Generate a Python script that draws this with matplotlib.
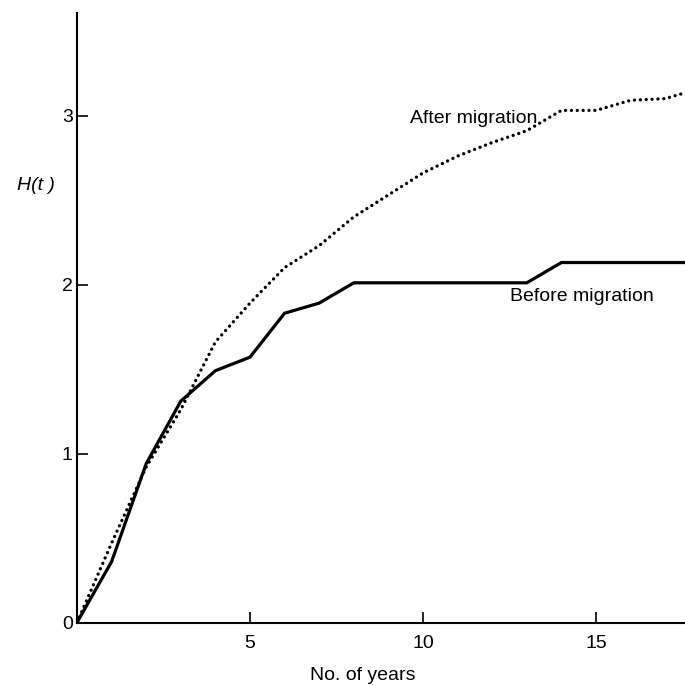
import matplotlib
matplotlib.use("Agg")
import matplotlib.pyplot as plt

years = list(range(0, 19))
before_migration = [0, 0.36, 0.94, 1.31, 1.49, 1.57, 1.83, 1.89, 2.01, 2.01,
                    2.01, 2.01, 2.01, 2.01, 2.13, 2.13, 2.13, 2.13, 2.13]
after_migration = [0, 0.47, 0.92, 1.26, 1.66, 1.89, 2.10, 2.23, 2.40, 2.53,
                   2.66, 2.76, 2.84, 2.91, 3.03, 3.03, 3.09, 3.10, 3.16]
x_ticks = [5, 10, 15]
y_ticks = [0, 1, 2, 3]

plt.rcParams['font.family'] = ['Liberation Sans', 'DejaVu Sans']

fig = plt.figure(figsize=(6.85, 6.85), dpi=100)
ax = fig.add_axes([77 / 685, 62.5 / 685, 1 - 77 / 685, (622.5 - 12.7) / 685])

ax.plot(years, before_migration, color='black', lw=2.3, solid_joinstyle='miter')
ax.plot(years, after_migration, color='black', lw=2.4,
        linestyle=(0, (0.01, 1.75)), dash_capstyle='round')

ax.set_xlim(0, (685 - 77) / 34.6)
ax.set_ylim(0, (622.5 - 12.7) / 169)

for s in ['top', 'right']:
    ax.spines[s].set_visible(False)
for s in ['left', 'bottom']:
    ax.spines[s].set_linewidth(1.5)

ax.set_xticks(x_ticks)
ax.set_yticks(y_ticks)
ax.tick_params(direction='in', length=8, width=1.2, labelsize=14)
ax.tick_params(axis='y', pad=3)
ax.tick_params(axis='x', pad=9)

ax.text(9.62, 2.98, 'After migration', fontsize=14, va='center', ha='left')
ax.text(12.51, 1.93, 'Before migration', fontsize=14, va='center', ha='left')

fig.text(36 / 685, 1 - 186 / 685, 'H(t )', fontsize=14, fontstyle='italic',
         ha='center', va='center')
fig.text(363 / 685, 1 - 676 / 685, 'No. of years', fontsize=14,
         ha='center', va='center')

fig.savefig('out.png', dpi=100)
